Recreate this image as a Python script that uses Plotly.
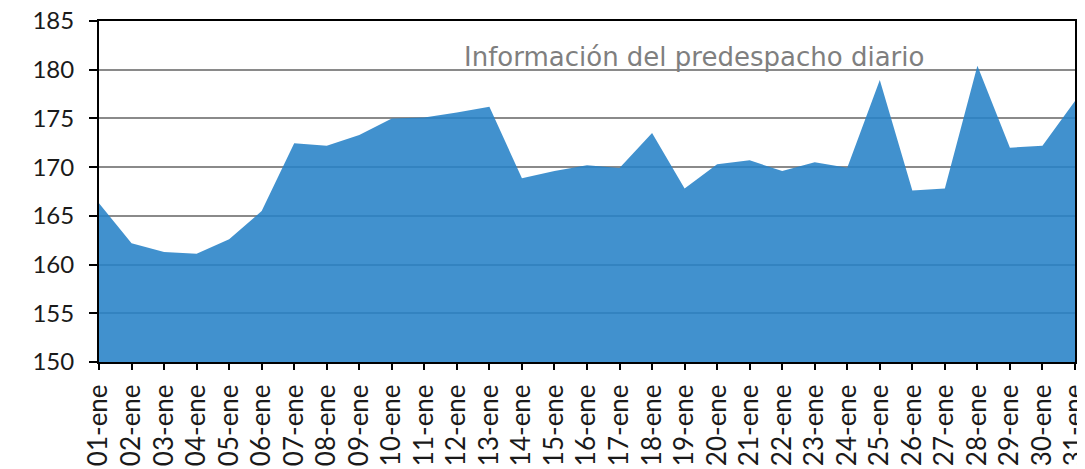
import plotly.graph_objects as go

days = [f"{d:02d}-ene" for d in range(1, 32)]
values = [166.3, 162.2, 161.3, 161.1, 162.6, 165.5, 172.45, 172.2, 173.3, 175.0,
          175.1, 175.6, 176.2, 168.85, 169.6, 170.2, 169.9, 173.5, 167.8, 170.3,
          170.7, 169.6, 170.5, 169.95, 178.95, 167.6, 167.8, 180.4, 172.0, 172.2,
          176.8]
y_ticks = [150, 155, 160, 165, 170, 175, 180, 185]
title_text = "Información del predespacho diario"

FONT = "Lato"

fig = go.Figure()
fig.add_trace(go.Scatter(
    x=list(range(len(days))), y=values, mode="lines",
    line=dict(width=0, color="rgba(39,130,199,0.88)"),
    fill="tozeroy", fillcolor="rgba(39,130,199,0.88)",
    hoverinfo="skip", showlegend=False,
))

# page body has an 8px default margin; compensate so the plot lands where the reference has it
fig.update_layout(
    width=1077, height=461,
    margin=dict(l=91, r=10, t=13, b=107),
    paper_bgcolor="white", plot_bgcolor="white",
    font=dict(family=FONT, size=24, color="#1a1a1a"),
    showlegend=False,
    annotations=[dict(
        text=title_text, xref="paper", yref="paper", x=0.61, y=0.894,
        xanchor="center", yanchor="middle", showarrow=False,
        font=dict(family="DejaVu Sans", size=26, color="#7f7f7f"),
    )],
    shapes=[dict(
        type="rect", xref="paper", yref="paper",
        x0=1.002, x1=1.03, y0=(362 - 308) / 341, y1=(362 - 201) / 341,
        fillcolor="#f6f6f6", line=dict(width=0), layer="below",
    )],
)
fig.update_xaxes(
    range=[-0.0001, len(days) - 1 + 0.0001], automargin=False,
    tickmode="array", tickvals=list(range(len(days))), ticktext=days,
    tickangle=-90, ticks="outside", ticklen=6, tickwidth=2, tickcolor="black",
    ticklabelstandoff=4, ticklabeloverflow="allow",
    showline=True, linecolor="black", linewidth=2, mirror=True,
    showgrid=False, zeroline=False,
    tickfont=dict(family=FONT, size=26, color="#1a1a1a"),
)
fig.update_yaxes(
    range=[150, 185], tickmode="array", tickvals=y_ticks, automargin=False,
    ticks="outside", ticklen=8, tickwidth=2, tickcolor="black",
    ticklabelstandoff=10, ticklabeloverflow="allow",
    showline=True, linecolor="black", linewidth=2, mirror=True,
    showgrid=True, gridcolor="#8a8a8a", gridwidth=2, zeroline=False,
    tickfont=dict(family=FONT, size=24, color="#1a1a1a"),
)

fig.write_html("out.html")
